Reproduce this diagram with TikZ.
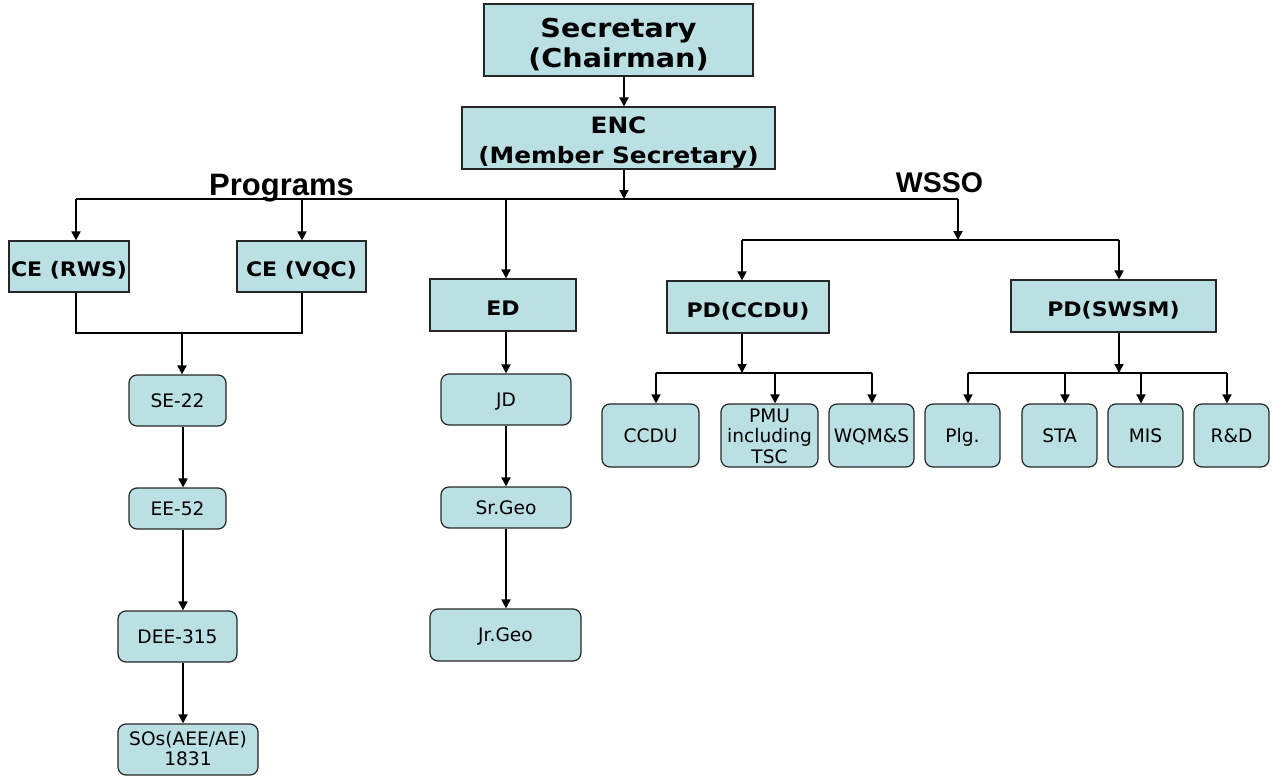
\documentclass[tikz,border=0pt]{standalone}
\usepackage{fontspec}
\setmainfont[BoldFeatures={FakeStretch=1.1}]{DejaVu Sans}
\newfontfamily\headfont{Liberation Sans}
\usetikzlibrary{arrows.meta}
\definecolor{boxcyan}{HTML}{BBE0E3}
\definecolor{edgegray}{HTML}{262626}
\tikzset{
  headbox/.style={draw=edgegray,line width=1.2pt,fill=boxcyan,inner sep=0pt,align=center,text height=20pt,text depth=0pt,font=\bfseries\fontsize{20}{24}\selectfont},
  unitbox/.style={draw=edgegray,line width=1.2pt,fill=boxcyan,rounded corners=8pt,inner sep=0pt,align=center,text height=13.5pt,text depth=0pt,font=\fontsize{18.6}{20.5}\selectfont},
  orgline/.style={draw=black,line width=1.2pt},
  orgarrow/.style={-{Triangle[length=9pt,width=9pt]},draw=black,line width=1.8pt},
  grouplabel/.style={font=\headfont\bfseries\fontsize{29}{29}\selectfont},
}
\begin{document}
\begin{tikzpicture}[x=1pt,y=-1pt]
  \useasboundingbox (0,0) rectangle (1283,776);
  % top of the chart
  \node[headbox,minimum width=269pt,minimum height=72pt,text height=56pt,font=\bfseries\fontsize{26}{31}\selectfont] (sec) at (618.5,40) {Secretary\\(Chairman)};
  \node[headbox,minimum width=313pt,minimum height=62pt,text height=50pt,font=\bfseries\fontsize{22.5}{30}\selectfont] (enc) at (618.5,138) {ENC\\(Member Secretary)};
  \node[grouplabel,anchor=base,font=\headfont\bfseries\fontsize{31}{31}\selectfont] (programs) at (281.5,195) {Programs};
  \node[grouplabel,anchor=base,font=\headfont\bfseries\fontsize{28.5}{29}\selectfont] (wsso) at (939.5,192) {WSSO};
  % second level
  \node[headbox,minimum width=120pt,minimum height=51pt] (cerws) at (69,266.5) {CE (RWS)};
  \node[headbox,minimum width=129pt,minimum height=51pt] (cevqc) at (301.5,266.5) {CE (VQC)};
  \node[headbox,minimum width=146pt,minimum height=52pt] (ed) at (503,305) {ED};
  \node[headbox,minimum width=162pt,minimum height=52pt] (pdccdu) at (748,307) {PD(CCDU)};
  \node[headbox,minimum width=205pt,minimum height=52pt] (pdswsm) at (1113.5,306) {PD(SWSM)};
  % engineering chain
  \node[unitbox,minimum width=97pt,minimum height=51pt] (se22) at (177.5,400.5) {SE-22};
  \node[unitbox,minimum width=97pt,minimum height=41pt] (ee52) at (177.5,508.5) {EE-52};
  \node[unitbox,minimum width=119pt,minimum height=51pt] (dee) at (177.5,636.5) {DEE-315};
  \node[unitbox,minimum width=140pt,minimum height=51pt,text height=32.4pt] (sos) at (188,749.5) {SOs(AEE/AE)\\1831};
  % geology chain
  \node[unitbox,minimum width=130pt,minimum height=51pt] (jd) at (506,399.5) {JD};
  \node[unitbox,minimum width=130pt,minimum height=41pt] (srgeo) at (506,507.5) {Sr.Geo};
  \node[unitbox,minimum width=151pt,minimum height=52pt] (jrgeo) at (505.5,635) {Jr.Geo};
  % wsso units
  \node[unitbox,minimum width=97pt,minimum height=63pt] (ccdu) at (650.5,435.5) {CCDU};
  \node[unitbox,minimum width=97pt,minimum height=63pt,text height=55pt] (pmu) at (769.5,435.5) {PMU\\including\\TSC};
  \node[unitbox,minimum width=85pt,minimum height=63pt] (wqms) at (871.5,435.5) {WQM\&S};
  \node[unitbox,minimum width=75pt,minimum height=63pt] (plg) at (962.5,435.5) {Plg.};
  \node[unitbox,minimum width=75pt,minimum height=63pt] (sta) at (1059.5,435.5) {STA};
  \node[unitbox,minimum width=75pt,minimum height=63pt] (mis) at (1145.5,435.5) {MIS};
  \node[unitbox,minimum width=75pt,minimum height=63pt] (rnd) at (1231.5,435.5) {R\&D};

  % main spine and bus
  \coordinate (spine) at (624,0); \coordinate (bus) at (624,199);
  \coordinate (busl) at (76,199); \coordinate (busr) at (958,199);
  \coordinate (vqc) at (302,199); \coordinate (edx) at (506,199);
  \draw[orgarrow] (sec.south -| spine) -- (enc.north -| spine);
  \draw[orgarrow] (enc.south -| bus) -- (bus);
  \draw[orgline] (busl) -- (busr);
  \draw[orgarrow] (busl) -- (busl |- cerws.north); \draw[orgarrow] (vqc) -- (vqc |- cevqc.north); \draw[orgarrow] (edx) -- (edx |- ed.north);
  % wsso branch
  \coordinate (ws) at (958,240); \coordinate (wsl) at (742,240); \coordinate (wsr) at (1119,240);
  \draw[orgarrow] (busr) -- (ws);
  \draw[orgline] (wsl) -- (wsr);
  \draw[orgarrow] (wsl) -- (wsl |- pdccdu.north); \draw[orgarrow] (wsr) -- (wsr |- pdswsm.north);
  % programs chain
  \coordinate (cejoin) at (182,333); \coordinate (lchain) at (183,0);
  \draw[orgline] (busl |- cerws.south) -- (busl |- cejoin) -- (vqc |- cejoin) -- (vqc |- cevqc.south);
  \draw[orgarrow] (cejoin) -- (cejoin |- se22.north);
  \draw[orgarrow] (se22.south -| lchain) -- (ee52.north -| lchain); \draw[orgarrow] (ee52.south -| lchain) -- (dee.north -| lchain); \draw[orgarrow] (dee.south -| lchain) -- (sos.north -| lchain);
  \draw[orgarrow] (ed.south -| edx) -- (jd.north -| edx); \draw[orgarrow] (jd.south -| edx) -- (srgeo.north -| edx); \draw[orgarrow] (srgeo.south -| edx) -- (jrgeo.north -| edx);
  % unit rows
  \coordinate (cc) at (742,373); \coordinate (ccl) at (656,373); \coordinate (ccr) at (872,373);
  \draw[orgarrow] (pdccdu.south -| cc) -- (cc);
  \draw[orgline] (ccl) -- (ccr);
  \foreach \n/\x in {ccdu/656,pmu/775,wqms/872} {\coordinate (t\n) at (\x,373); \draw[orgarrow] (t\n) -- (t\n |- \n.north);}
  \coordinate (sw) at (1119,373); \coordinate (swl) at (968,373); \coordinate (swr) at (1227,373);
  \draw[orgarrow] (pdswsm.south -| sw) -- (sw);
  \draw[orgline] (swl) -- (swr);
  \foreach \n/\x in {plg/968,sta/1065,mis/1141,rnd/1227} {\coordinate (t\n) at (\x,373); \draw[orgarrow] (t\n) -- (t\n |- \n.north);}
\end{tikzpicture}
\end{document}
